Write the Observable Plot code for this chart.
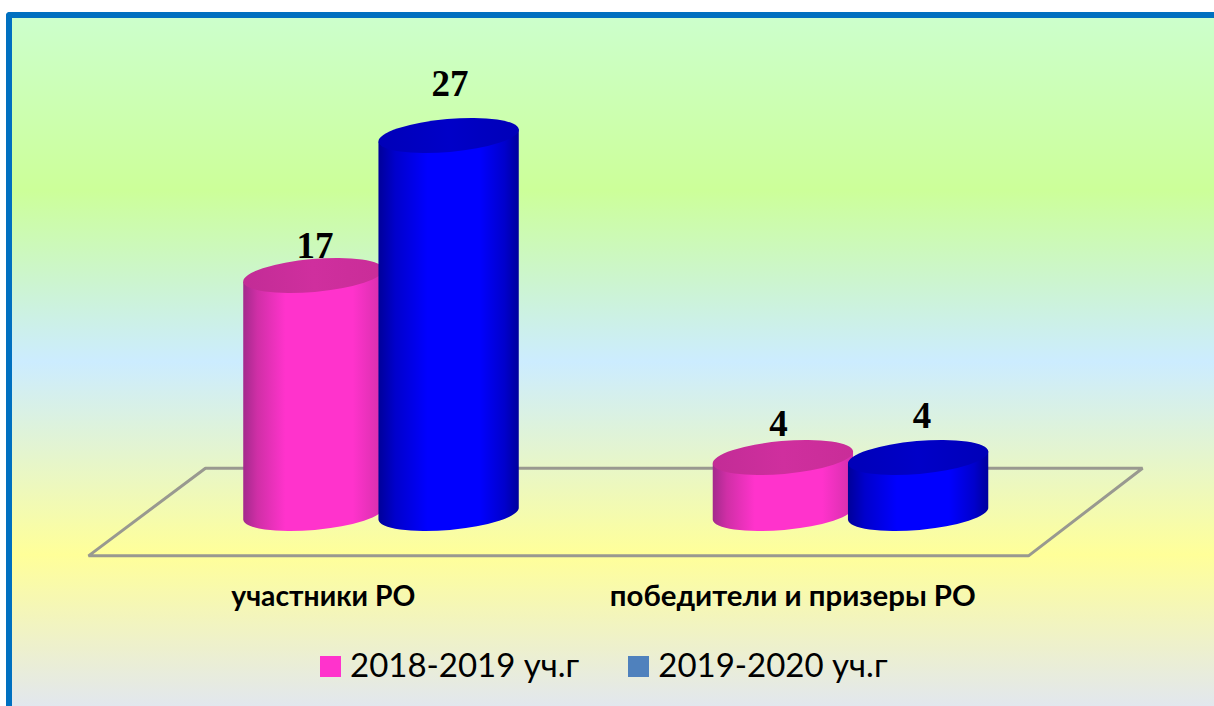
<!DOCTYPE html>
<html lang="ru">
<head>
<meta charset="utf-8">
<script src="https://cdn.jsdelivr.net/npm/d3@7"></script>
<script src="https://cdn.jsdelivr.net/npm/@observablehq/plot@0.6"></script>
<style>
  html { background: #fff; }
  html, body { margin: 0; padding: 0; overflow: hidden; }
  #bg {
    position: absolute; left: 6px; top: 12px; right: 0; bottom: 0; z-index: -1;
    border-top: 6px solid #0070c0; border-left: 6px solid #0070c0; border-top-left-radius: 4px;
    background: linear-gradient(to bottom, #ccffcc 0%, #ccff99 25%, #ccecff 50%, #ffff99 78%, #e2e7ee 100%);
  }
  #chart svg { display: block; }
  #legend {
    height: 66px; display: flex; align-items: flex-start; padding-left: 320px;
    font: 400 33px/1 Lato, sans-serif; color: #000; box-sizing: border-box;
  }
  #legend .item { display: flex; align-items: center; height: 36px; margin-top: 8px; }
  #legend .sw { width: 21px; height: 21px; margin-right: 10px; }
  #legend .tx { position: relative; top: -2px; left: -1px; }
  #legend .item + .item { margin-left: 48px; }
</style>
</head>
<body>
<div id="bg"></div>
<div id="chart"></div>
<div id="legend"></div>
<script>
const categories = ["участники РО", "победители и призеры РО"];
const seriesNames = ["2018-2019 уч.г", "2019-2020 уч.г"];
const values2018 = [17, 4];
const values2019 = [27, 4];
const floorX = [-0.375, 1.621, 1.378, -0.624, -0.375];
const floorY = [3.27, 3.27, -2.99, -2.99, 3.27];

// layout of the pseudo-3D drawing
const W = 1214, H = 640;
const xZero = 381, xUnit = 469.5, yZero = 513.5, yUnit = 14.0;
const offset = 0.144, halfWidth = 0.15, tilt = 5, lidRatio = 0.234;
const labelOffsets = [[1, -18], [1, -40], [-5, -22], [3.5, -30]];
const catShift = [-0.124, -0.124];
const catWidths = [184, 366];

const rows = (vals, s) => vals.map((value, c) => ({cat: c, value, pos: c + (s === 0 ? -offset : offset)}));
const pink = rows(values2018, 0), blue = rows(values2019, 1);

function gradient(id, stops) {
  return `<linearGradient id="${id}" x1="0" x2="1" y1="0" y2="0">` +
    stops.map(([o, c]) => `<stop offset="${o}" stop-color="${c}"/>`).join("") + `</linearGradient>`;
}
const defsMark = () => {
  const g = document.createElementNS("http://www.w3.org/2000/svg", "defs");
  g.innerHTML =
    gradient("pinkBody", [[0, "#a32a8c"], [0.1, "#cf2fa6"], [0.3, "#ff33cc"], [0.78, "#ff33cc"], [1, "#d42fab"]]) +
    gradient("blueBody", [[0, "#000099"], [0.12, "#0000cc"], [0.35, "#0000ff"], [0.72, "#0000ff"], [0.9, "#0000cc"], [1, "#00009c"]]) +
    gradient("pinkLid", [[0, "#c22c96"], [0.5, "#cf2f9e"], [1, "#c92d98"]]) +
    gradient("blueLid", [[0, "#0000b8"], [0.5, "#0000c8"], [1, "#0000b8"]]);
  return g;
};

function cylinder(data, body, lid) {
  return Plot.rect(data, {
    x1: d => d.pos - halfWidth,
    x2: d => d.pos + halfWidth,
    y1: () => 0,
    y2: d => d.value,
    fill: `url(#${body})`,
    render(index, scales, values, dims, ctx, next) {
      const g = next(index, scales, values, dims, ctx);
      const NS = "http://www.w3.org/2000/svg";
      const rad = tilt * Math.PI / 180;
      g.querySelectorAll("rect").forEach(r => {
        const x = +r.getAttribute("x"), y = +r.getAttribute("y");
        const w = +r.getAttribute("width"), h = +r.getAttribute("height");
        const rx = w / 2, ry = rx * lidRatio, cx = x + rx;
        const ex = rx * Math.cos(rad), ey = rx * Math.sin(rad);
        const p = document.createElementNS(NS, "path");
        p.setAttribute("d",
          `M${cx - ex},${y + ey}L${cx - ex},${y + h + ey}` +
          `A${rx},${ry} ${-tilt} 0 0 ${cx + ex},${y + h - ey}` +
          `L${cx + ex},${y - ey}Z`);
        const e = document.createElementNS(NS, "ellipse");
        e.setAttribute("cx", cx); e.setAttribute("cy", y);
        e.setAttribute("rx", rx); e.setAttribute("ry", ry);
        e.setAttribute("transform", `rotate(${-tilt} ${cx} ${y})`);
        e.setAttribute("fill", `url(#${lid})`);
        r.parentNode.appendChild(p);
        r.parentNode.appendChild(e);
        r.remove();
      });
      return g;
    }
  });
}

const valueLabels = [pink[0], blue[0], pink[1], blue[1]].map((d, i) =>
  Plot.text([d], {
    x: "pos", y: "value", text: d => String(d.value),
    dx: labelOffsets[i][0], dy: labelOffsets[i][1],
    lineAnchor: "bottom",
    fontFamily: "Liberation Serif", fontWeight: 700, fontSize: 37, fill: "#000"
  }));

const plot = Plot.plot({
  width: W, height: H,
  marginTop: 0, marginRight: 0, marginBottom: 0, marginLeft: 0,
  style: {background: "transparent", overflow: "visible"},
  x: {type: "linear", domain: [-xZero / xUnit, (W - xZero) / xUnit], range: [0, W], axis: null},
  y: {type: "linear", domain: [yZero / yUnit, (yZero - H) / yUnit], range: [0, H], axis: null},
  marks: [
    defsMark,
    Plot.line(floorX.map((x, i) => ({x, y: floorY[i]})), {x: "x", y: "y", stroke: "#999990", strokeWidth: 3, strokeLinejoin: "miter"}),
    ...valueLabels,
    cylinder(pink, "pinkBody", "pinkLid"),
    cylinder(blue, "blueBody", "blueLid"),
    Plot.text(categories.map((name, c) => ({name, x: c + catShift[c]})), {
      x: "x", y: () => floorY[2], text: "name", dy: 41,
      fontFamily: "Lato", fontWeight: 700, fontSize: 28, fill: "#000",
      render(index, scales, values, dims, ctx, next) {
        const g = next(index, scales, values, dims, ctx);
        g.querySelectorAll("text").forEach((t, i) => {
          t.setAttribute("textLength", catWidths[i]);
          t.setAttribute("lengthAdjust", "spacingAndGlyphs");
        });
        return g;
      }
    })
  ]
});
document.getElementById("chart").appendChild(plot);

const legendColors = ["#ff33cc", "#4f81bd"];
document.getElementById("legend").innerHTML = seriesNames.map((s, i) =>
  `<div class="item"><span class="sw" style="background:${legendColors[i]}"></span><span class="tx">${s}</span></div>`).join("");
</script>
</body>
</html>
